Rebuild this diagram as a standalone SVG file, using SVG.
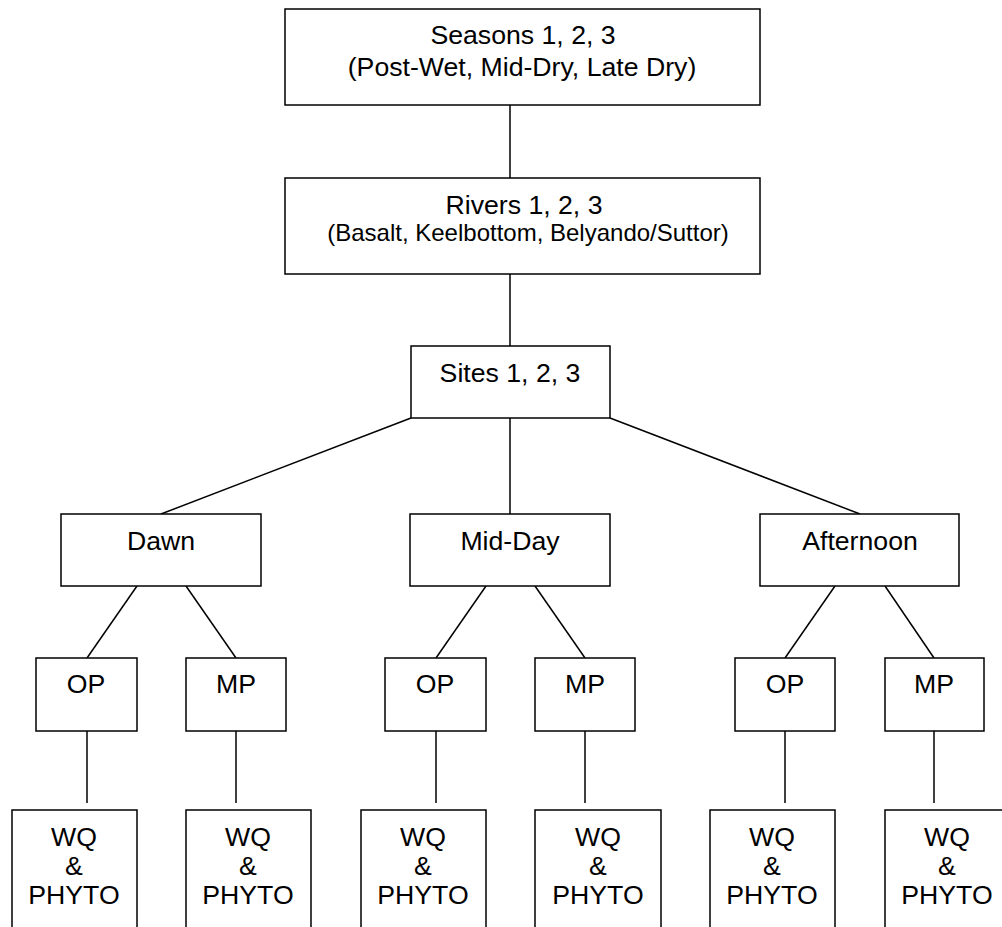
<svg xmlns="http://www.w3.org/2000/svg" width="1002" height="927" viewBox="0 0 1002 927">
<style>
.box{fill:#fff;stroke:#000;stroke-width:1.5}
.c line{stroke:#000;stroke-width:1.5}
text{font-family:"Liberation Sans",Arial,sans-serif;font-size:26.67px;fill:#000;text-anchor:middle}
.s{font-size:24px}
</style>
<rect width="1002" height="927" fill="#fff"/>
<g class="c" id="connectors">
<line x1="510" y1="105" x2="510" y2="178"/>
<line x1="510" y1="274" x2="510" y2="346"/>
<line x1="411" y1="418" x2="161" y2="514"/>
<line x1="510" y1="418" x2="510" y2="514"/>
<line x1="610" y1="418" x2="860" y2="514"/>
<line x1="137" y1="586" x2="87" y2="658"/>
<line x1="186" y1="586" x2="236" y2="658"/>
<line x1="486" y1="586" x2="436" y2="658"/>
<line x1="535" y1="586" x2="585" y2="658"/>
<line x1="835" y1="586" x2="785" y2="658"/>
<line x1="885" y1="586" x2="934" y2="658"/>
<line x1="87" y1="731" x2="87" y2="803"/>
<line x1="236" y1="731" x2="236" y2="803"/>
<line x1="436" y1="731" x2="436" y2="803"/>
<line x1="585" y1="731" x2="585" y2="803"/>
<line x1="785" y1="731" x2="785" y2="803"/>
<line x1="934" y1="731" x2="934" y2="803"/>
</g>
<g id="seasons"><rect class="box" x="285" y="9" width="475" height="96"/><text x="523" y="44">Seasons 1, 2, 3</text><text x="522" y="76">(Post-Wet, Mid-Dry, Late Dry)</text></g>
<g id="rivers"><rect class="box" x="285" y="178" width="475" height="96"/><text x="524" y="214">Rivers 1, 2, 3</text><text class="s" x="528" y="241">(Basalt, Keelbottom, Belyando/Suttor)</text></g>
<g id="sites"><rect class="box" x="411" y="346" width="199" height="72"/><text x="510" y="382">Sites 1, 2, 3</text></g>
<g id="dawn"><rect class="box" x="61" y="514" width="200" height="72"/><text x="161" y="550">Dawn</text></g>
<g id="midday"><rect class="box" x="410" y="514" width="200" height="72"/><text x="510" y="550">Mid-Day</text></g>
<g id="afternoon"><rect class="box" x="760" y="514" width="199" height="72"/><text x="860" y="550">Afternoon</text></g>
<g id="op1"><rect class="box" x="36" y="658" width="101" height="73"/><text x="86" y="693">OP</text></g>
<g id="mp1"><rect class="box" x="186" y="658" width="100" height="73"/><text x="236" y="693">MP</text></g>
<g id="op2"><rect class="box" x="385" y="658" width="101" height="73"/><text x="435" y="693">OP</text></g>
<g id="mp2"><rect class="box" x="535" y="658" width="100" height="73"/><text x="585" y="693">MP</text></g>
<g id="op3"><rect class="box" x="735" y="658" width="100" height="73"/><text x="785" y="693">OP</text></g>
<g id="mp3"><rect class="box" x="885" y="658" width="99" height="73"/><text x="934" y="693">MP</text></g>
<g id="wq1"><rect class="box" x="12" y="810" width="125" height="140"/><text x="74" y="846">WQ</text><text x="74" y="875">&amp;</text><text x="74" y="904">PHYTO</text></g>
<g id="wq2"><rect class="box" x="186" y="810" width="125" height="140"/><text x="248" y="846">WQ</text><text x="248" y="875">&amp;</text><text x="248" y="904">PHYTO</text></g>
<g id="wq3"><rect class="box" x="361" y="810" width="125" height="140"/><text x="423" y="846">WQ</text><text x="423" y="875">&amp;</text><text x="423" y="904">PHYTO</text></g>
<g id="wq4"><rect class="box" x="535" y="810" width="126" height="140"/><text x="598" y="846">WQ</text><text x="598" y="875">&amp;</text><text x="598" y="904">PHYTO</text></g>
<g id="wq5"><rect class="box" x="710" y="810" width="125" height="140"/><text x="772" y="846">WQ</text><text x="772" y="875">&amp;</text><text x="772" y="904">PHYTO</text></g>
<g id="wq6"><rect class="box" x="885" y="810" width="125" height="140"/><text x="947" y="846">WQ</text><text x="947" y="875">&amp;</text><text x="947" y="904">PHYTO</text></g>
</svg>
